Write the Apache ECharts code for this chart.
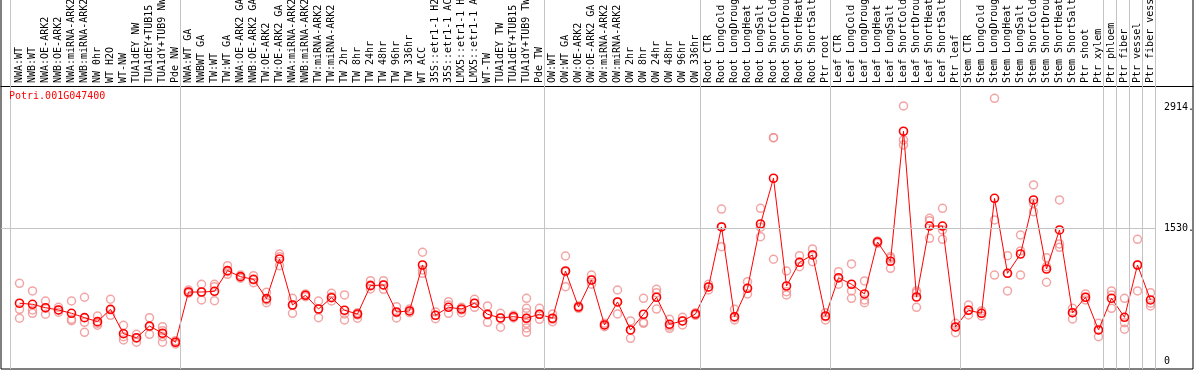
<!DOCTYPE html>
<html>
<head>
<meta charset="utf-8">
<script src="https://cdn.jsdelivr.net/npm/echarts@6/dist/echarts.min.js"></script>
<style>
html,body{margin:0;padding:0;background:#fff;}
#chart{width:1194px;height:370px;}
</style>
</head>
<body>
<div id="chart"></div>
<script>
const geneTitle = "Potri.001G047400";

const categories = [
  "NWA:WT","NWB:WT","NWA:OE-ARK2","NWB:OE-ARK2","NWA:miRNA-ARK2","NWB:miRNA-ARK2","NW 0hr","WT H2O","WT-NW","TUA1dEY NW","TUA1dEY+TUB15","TUA1dY+TUB9 NW","Pde NW",
  "NWA:WT GA","NWBWT GA","TW:WT","TW:WT GA","NWA:OE-ARK2 GA","NWB:OE-ARK2 GA","TW:OE-ARK2","TW:OE-ARK2 GA","NWA:miRNA-ARK2","NWB:miRNA-ARK2","TW:miRNA-ARK2","TW:miRNA-ARK2",
  "TW 2hr","TW 8hr","TW 24hr","TW 48hr","TW 96hr","TW 336hr","WT ACC","35S::etr1-1 H2O","35S::etr1-1 ACC","LMX5::etr1-1 H2O","LMX5::etr1-1 ACC","WT-TW","TUA1dEY TW","TUA1dEY+TUB15","TUA1dY+TUB9 TW","Pde TW",
  "OW:WT","OW:WT GA","OW:OE-ARK2","OW:OE-ARK2 GA","OW:miRNA-ARK2","OW:miRNA-ARK2","OW 2hr","OW 8hr","OW 24hr","OW 48hr","OW 96hr","OW 336hr",
  "Root CTR","Root LongCold","Root LongDrought","Root LongHeat","Root LongSalt","Root ShortCold","Root ShortDrought","Root ShortHeat","Root ShortSalt","Ptr root",
  "Leaf CTR","Leaf LongCold","Leaf LongDrought","Leaf LongHeat","Leaf LongSalt","Leaf ShortCold","Leaf ShortDrought","Leaf ShortHeat","Leaf ShortSalt","Ptr leaf",
  "Stem CTR","Stem LongCold","Stem LongDrought","Stem LongHeat","Stem LongSalt","Stem ShortCold","Stem ShortDrought","Stem ShortHeat","Stem ShortSalt","Ptr shoot","Ptr xylem",
  "Ptr phloem","Ptr fiber","Ptr vessel","Ptr fiber vessel"
];

const meanValues = [
  670,658,619,593,555,505,459,601,321,275,409,326,223,
  799,799,807,1044,975,945,723,1178,650,762,604,734,
  590,547,872,880,570,582,1109,532,624,604,670,544,501,516,498,544,
  498,1040,627,937,421,685,364,544,739,429,467,547,
  857,1545,516,842,1579,2104,868,1140,1224,524,
  963,888,777,1373,1152,2643,742,1556,1556,398,
  590,555,1874,1014,1235,1855,1063,1511,562,739,364,
  727,509,1109,708
];

const replicateValues = [
  [899,601,498],[811,593,555],[696,612,544],[624,593,567],[696,486,470],[739,452,337],[524,440,418],[716,593,532],[418,287,249],[314,268,223],[505,401,314],[401,356,287,223],[241,223,203],
  [822,799,785],[888,799,708],[888,860,700],[1101,1032,1002],[994,975,957],[986,937,906],[796,708,677],[1235,1204,1101],[727,650,555],[777,762,746],[696,604,505],[785,746,696],
  [765,547,478],[562,536,498],[929,880,834],[929,880,830],[631,562,501],[604,582,562],[1255,1052,1014],[570,532,493],[688,650,555],[624,593,562],[716,670,624],[639,536,452],[555,501,395],[532,516,501],[727,612,562,498,440,387,337],[612,544,486],
  [547,486,459],[1212,1032,860],[639,627,612],[994,937,888],[440,421,401],[822,685,547],[467,364,268],[727,452,440],[830,791,604],[486,409,383],[509,467,421],[562,547,532],
  [888,857,822],[1751,1548,1319],[601,505,478],[918,842,777],[1759,1542,1434],[2569,2569,1175],[1040,803,765],[1216,1140,1090],[1293,1224,1147],[562,516,478],
  [1032,957,888],[1121,811,727],[926,708,677],[1384,1373,1358],[1204,1186,1071],[2933,2543,2486],[811,791,624],[1645,1617,1415],[1759,1511,1404],[440,395,333],
  [650,593,536],[582,555,524],[3021,1625,994],[1216,1014,811],[1453,1270,994],[2027,1817,1721],[1193,1090,911],[1855,1350,1312],[612,562,490],[777,739,708],[440,364,287],
  [811,765,612],[727,447,372],[1404,1109,811],[791,670,639]
];

// group separators (in category-index units)
const groupSeparators = [-0.72, 12.35, 40.4, 52.35, 62.35, 72.35, 83.37, 84.37, 85.37, 86.4, 87.4];

const yTickValues = [0, 1530, 2914];
const yTickLabels = ["0", "1530.", "2914."];
const gridLineValue = 1530;

const X_MIN = -1.4231, X_MAX = 90.269;
const Y_MIN = -84, Y_MAX = 4160;

const meanData = meanValues.map((v, i) => [i, v]);
const repData = [];
replicateValues.forEach((arr, i) => arr.forEach(v => repData.push([i, v])));

const chart = echarts.init(document.getElementById('chart'), null, {renderer: 'canvas'});
const mono = "'DejaVu Sans Mono', 'Liberation Mono', monospace";

chart.setOption({
  animation: false,
  backgroundColor: '#ffffff',
  title: {
    text: geneTitle,
    left: 9, top: 91,
    padding: 0,
    textStyle: {color: '#ff0000', fontSize: 10, fontWeight: 'normal', fontFamily: mono}
  },
  grid: {
    left: 1, right: 1, top: -1, bottom: 1,
    show: true, borderColor: '#000', borderWidth: 1,
    containLabel: false,
    outerBoundsMode: 'none'
  },
  xAxis: {
    type: 'value',
    min: X_MIN, max: X_MAX,
    position: 'top',
    offset: -87,
    axisLine: {show: true, onZero: false, lineStyle: {color: '#000', width: 1}},
    axisTick: {show: false},
    splitLine: {show: false},
    axisLabel: {
      customValues: categories.map((c, i) => i),
      formatter: v => categories[Math.round(v)] || '',
      rotate: -90,
      margin: 3,
      color: '#000',
      fontSize: 10,
      fontFamily: mono,
      showMinLabel: true, showMaxLabel: true
    }
  },
  yAxis: {
    type: 'value',
    min: Y_MIN, max: Y_MAX,
    position: 'right',
    axisLine: {show: false, onZero: false},
    axisTick: {show: false},
    splitLine: {show: false},
    axisLabel: {
      inside: true,
      customValues: yTickValues,
      formatter: v => yTickLabels[yTickValues.indexOf(v)] ?? '',
      align: 'left',
      margin: 29,
      color: '#000',
      fontSize: 10,
      fontFamily: mono
    }
  },
  series: [
    {
      type: 'scatter',
      data: repData,
      symbol: 'circle',
      symbolSize: 8,
      itemStyle: {color: 'rgba(0,0,0,0)', borderColor: '#ef8f8f', borderWidth: 1.5},
      silent: true,
      z: 2,
      markLine: {
        silent: true,
        symbol: ['none', 'none'],
        label: {show: false},
        lineStyle: {color: '#c4c4c4', width: 1, type: 'solid'},
        data: groupSeparators.map(x => ({xAxis: x})).concat([
          [{coord: [X_MIN, gridLineValue]}, {coord: [groupSeparators[groupSeparators.length - 1], gridLineValue]}]
        ])
      }
    },
    {
      type: 'line',
      data: meanData,
      symbol: 'circle',
      symbolSize: 8,
      showAllSymbol: true,
      lineStyle: {color: '#ff0000', width: 1},
      itemStyle: {color: 'rgba(0,0,0,0)', borderColor: '#ff0000', borderWidth: 1.6},
      silent: true,
      z: 3
    }
  ]
});
</script>
</body>
</html>
